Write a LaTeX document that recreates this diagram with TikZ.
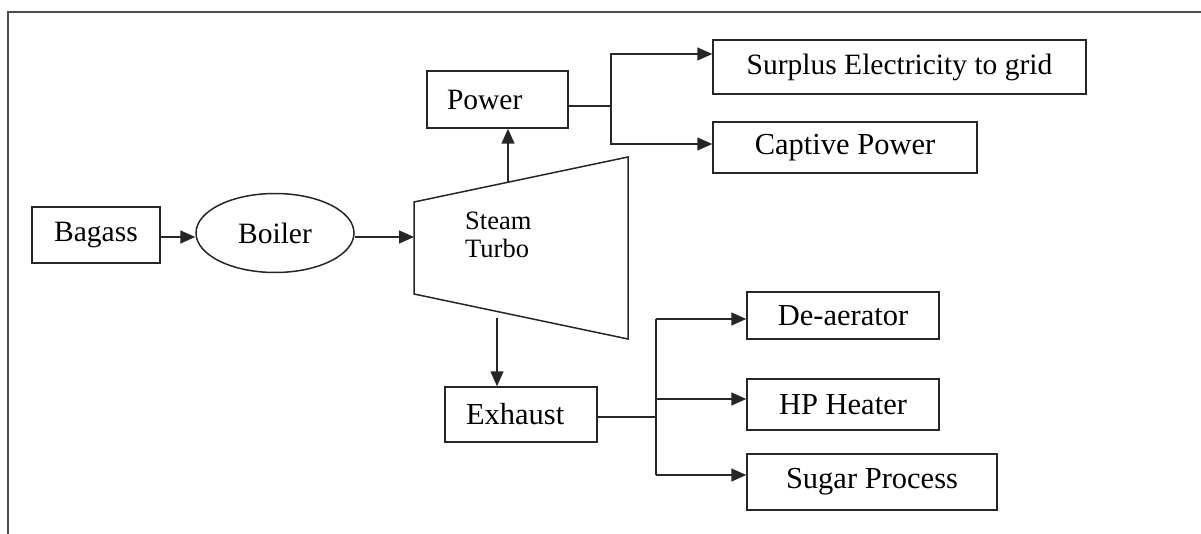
\documentclass[tikz,border=0pt]{standalone}
\usepackage{fontspec}
\setmainfont{Liberation Serif}
\usetikzlibrary{arrows.meta,shapes.geometric}
\begin{document}
\begin{tikzpicture}[x=1pt,y=-1pt,
  box/.style={draw=black!85, line width=1.5pt, rectangle, inner sep=0pt, font=\fontsize{29.5}{32}\selectfont},
  cbox/.style={box, font=\fontsize{30.5}{33}\selectfont},
  lbox/.style={align=left, inner xsep=20pt},
  arr/.style={draw=black!85, line width=1.5pt, -{Triangle[length=15pt,width=13pt]}},
  ln/.style={draw=black!85, line width=1.5pt}]
\useasboundingbox (0,0) rectangle (1201,534);
\draw[line width=2.4pt, black!70] (8,534) -- (8,12) -- (1201,12);

% left chain
\node[box, minimum width=128, minimum height=56] (bagass) at (96,235) {Bagass};
\node[draw=black!85, line width=1.5pt, ellipse, minimum width=158, minimum height=79, inner sep=0pt,
      font=\fontsize{29.5}{32}\selectfont] (boiler) at (275,233) {Boiler};

% turbine
\coordinate (tl) at (414,202);
\coordinate (tr) at (628,157);
\coordinate (br) at (628,339);
\coordinate (bl) at (414,294);
\draw[ln, line join=miter] (tl) -- (tr) -- (br) -- (bl) -- cycle;
\node[anchor=west, align=left, inner sep=0pt, font=\fontsize{26.5}{28}\selectfont] (turbo) at (465,235) {Steam\\Turbo};
\coordinate (tin) at (414,237);
\coordinate (tup) at (508,182);
\coordinate (tdown) at (497,318);
\coordinate (ab) at (0,237);

\draw[arr] (bagass.east |- ab) -- (boiler.west |- ab);
\draw[arr] (boiler.east |- tin) -- (tin);

% power branch
\node[box, lbox, minimum height=57, text width=101pt] (power) at (497.5,99.5) {Power};
\node[box, minimum width=373, minimum height=54] (surplus) at (899.5,67) {Surplus Electricity to grid};
\node[cbox, minimum width=264, minimum height=51] (captive) at (845,147.5) {Captive Power};
\draw[arr] (tup) -- (tup |- power.south);
\coordinate (pj) at (611,106);
\coordinate (pa) at (611,54);
\coordinate (pb) at (611,144);
\draw[ln] (power.east |- pj) -- (pj);
\draw[arr] (pj) -- (pa) -- (pa -| surplus.west);
\draw[arr] (pj) -- (pb) -- (pb -| captive.west);

% exhaust branch
\node[cbox, lbox, inner xsep=21pt, minimum height=55, text width=110pt] (exhaust) at (521,414.5) {Exhaust};
\node[cbox, minimum width=192, minimum height=47] (deaer) at (843,315.5) {De-aerator};
\node[cbox, minimum width=192, minimum height=51] (hp) at (843,404.5) {HP Heater};
\node[cbox, minimum width=250, minimum height=56] (sugar) at (872,482) {Sugar Process};
\draw[arr] (tdown) -- (tdown |- exhaust.north);
\coordinate (ej) at (656,417);
\coordinate (ea) at (656,319);
\coordinate (eb) at (656,399);
\coordinate (ec) at (656,475);
\draw[ln] (exhaust.east |- ej) -- (ej);
\draw[ln] (ea) -- (ec);
\draw[arr] (ea) -- (ea -| deaer.west);
\draw[arr] (eb) -- (eb -| hp.west);
\draw[arr] (ec) -- (ec -| sugar.west);
\end{tikzpicture}
\end{document}
